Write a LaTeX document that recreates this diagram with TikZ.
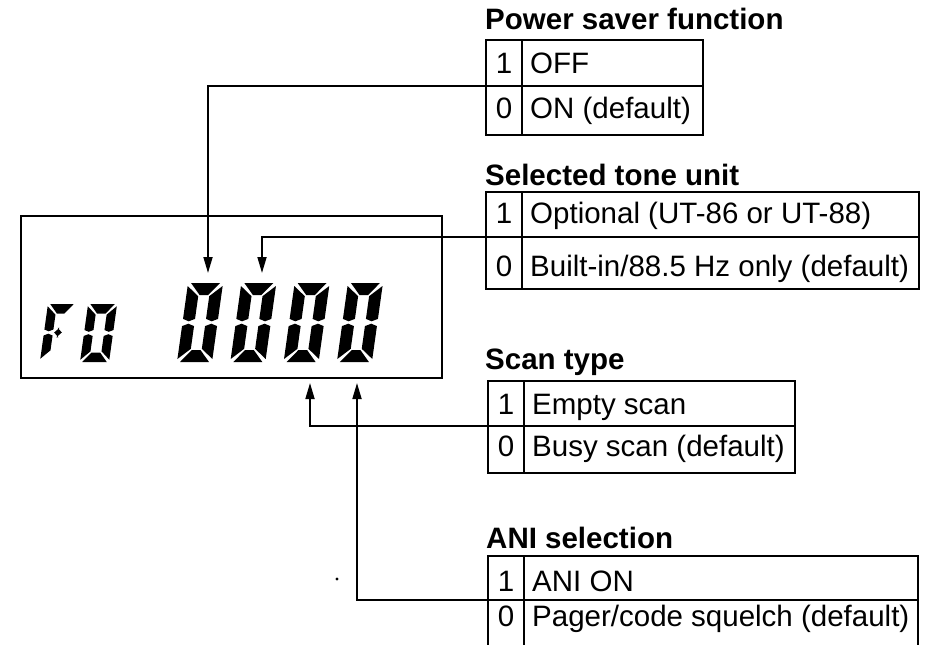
\documentclass[tikz,border=0pt]{standalone}
\usepackage{fontspec}
\setmainfont{Liberation Sans}
\usetikzlibrary{arrows.meta}
\newcommand{\tabfont}{\fontsize{29.5pt}{34pt}\selectfont}
\newcommand{\titfont}{\fontsize{29.5pt}{34pt}\selectfont\bfseries}
% seven-segment helpers (local coords: origin bottom-left, y up)
\newcommand{\lcdsega}{\fill ({\dB},{\dH}) -- ({\dW-\dB},{\dH}) -- ({\dW-\tV-\dG},{\dH-\tH}) -- ({\tV+\dG},{\dH-\tH}) -- cycle;}
\newcommand{\lcdsegd}{\fill ({\dB},0) -- ({\dW-\dB},0) -- ({\dW-\tV-\dG},{\tH}) -- ({\tV+\dG},{\tH}) -- cycle;}
\newcommand{\lcdsegf}{\fill (0,{\dH-\dB}) -- ({\tV},{\dH-\tH-\dG}) -- ({\tV},{\yM+\dG+\dP}) -- ({\tV/2},{\yM+\dG}) -- (0,{\yM+\dG+\dP}) -- cycle;}
\newcommand{\lcdsege}{\fill (0,{\dB}) -- ({\tV},{\tH+\dG}) -- ({\tV},{\yM-\dG-\dP}) -- ({\tV/2},{\yM-\dG}) -- (0,{\yM-\dG-\dP}) -- cycle;}
\newcommand{\lcdsegb}{\fill ({\dW},{\dH-\dB}) -- ({\dW-\tV},{\dH-\tH-\dG}) -- ({\dW-\tV},{\yM+\dG+\dP}) -- ({\dW-\tV/2},{\yM+\dG}) -- ({\dW},{\yM+\dG+\dP}) -- cycle;}
\newcommand{\lcdsegc}{\fill ({\dW},{\dB}) -- ({\dW-\tV},{\tH+\dG}) -- ({\dW-\tV},{\yM-\dG-\dP}) -- ({\dW-\tV/2},{\yM-\dG}) -- ({\dW},{\yM-\dG-\dP}) -- cycle;}
\newcommand{\lcdsegg}{\fill ({\tV+\dG},{\yM}) -- ({\tV+\dG+\tH/2},{\yM+\tH/2}) -- ({\dW-\tV-\dG-\tH/2},{\yM+\tH/2}) -- ({\dW-\tV-\dG},{\yM}) -- ({\dW-\tV-\dG-\tH/2},{\yM-\tH/2}) -- ({\tV+\dG+\tH/2},{\yM-\tH/2}) -- cycle;}
\newcommand{\lcddigit}[7]{%
  \begin{scope}[shift={(#1,#2)},x=1pt,y=1pt,xslant=0.14]
    \pgfmathsetmacro\dW{#3}\pgfmathsetmacro\dH{#4}\pgfmathsetmacro\tV{#5}\pgfmathsetmacro\tH{#6}%
    \pgfmathsetmacro\dG{1.2}\pgfmathsetmacro\dB{0.25*#5}\pgfmathsetmacro\dP{0.2*#5}\pgfmathsetmacro\yM{#4/2}%
    \foreach \s in {#7}{\csname lcdseg\s\endcsname}%
  \end{scope}}
% table rows: [text yshift]{name}{at}{label width}{height}{number}{text}
\newcommand{\tabrow}[7][0pt]{%
  \node[numcell, minimum height=#5] (#2n) at #3 {};
  \node[labcell, minimum height=#5, minimum width=#4] (#2) at (#2n.north east) {};
  \node[numtext] (#2nt) at ([yshift=#1]#2n.center) {#6};
  \node[labtext] (#2t) at ([xshift=8pt,yshift=#1]#2.west) {#7};}
\tikzset{
  tabline/.style={draw, line width=1.8pt, inner sep=0pt, outer sep=0pt, anchor=north west},
  numcell/.style={tabline, minimum width=36pt},
  labcell/.style={tabline},
  numtext/.style={inner sep=0pt, font=\tabfont, text height=21pt, text depth=0pt},
  labtext/.style={anchor=west, inner sep=0pt, font=\tabfont, text height=21pt, text depth=0pt},
  title/.style={anchor=base west, inner sep=0pt, font=\titfont},
  conn/.style={line width=1.7pt, -{Triangle[length=16pt,width=9pt]}},
}
\begin{document}
\begin{tikzpicture}[x=1pt,y=-1pt]
\useasboundingbox (0,0) rectangle (932,645);
\fill[white] (0,0) rectangle (932,645);
\clip (0,0) rectangle (932,645);

% display
\node[draw, line width=1.9pt, inner sep=0pt, outer sep=0pt, minimum width=421pt, minimum height=162pt, anchor=north west] (disp) at (21,216) {};
\lcddigit{40}{361}{28}{57}{9}{9.5}{a,e,f,g}
\lcddigit{80}{362}{29}{58}{9}{9.5}{a,b,c,d,e,f}
\foreach \i in {0,1,2,3}{
  \lcddigit{177+53.3*\i}{362}{35}{79}{12}{12}{a,b,c,d,e,f}
}

% titles
\node[title] (tpow) at (485,29.5) {Power saver function};
\node[title] (ttone) at (485,185) {Selected tone unit};
\node[title] (tscan) at (485,369) {Scan type};
\node[title] (tani) at (486,548) {ANI selection};

% tables
\tabrow{p1}{(486,40)}{181pt}{46pt}{1}{OFF}
\tabrow[3pt]{p0}{(p1n.south west)}{181pt}{49pt}{0}{ON (default)}
\tabrow[2pt]{t1}{(486,192)}{397pt}{45pt}{1}{Optional (UT-86 or UT-88)}
\tabrow[-3pt]{t0}{(t1n.south west)}{397pt}{52pt}{0}{Built-in/88.5 Hz only (default)}
\tabrow{s1}{(488,381)}{271pt}{45pt}{1}{Empty scan}
\tabrow[4pt]{s0}{(s1n.south west)}{271pt}{47pt}{0}{Busy scan (default)}
\tabrow[-3pt]{a1}{(488,556)}{394pt}{44pt}{1}{ANI ON}
\tabrow[7pt]{a0}{(a1n.south west)}{394pt}{46pt}{0}{Pager/code squelch (default)}

% connectors
\coordinate (pa) at (208,273);
\coordinate (ta) at (262,273);
\coordinate (sa) at (310,383);
\coordinate (aa) at (357,383);
\draw[conn] (p0n.north west) -| (pa);
\draw[conn] (t0n.north west) -| (ta);
\draw[conn] (s0n.north west) -| (sa);
\draw[conn] (a0n.north west) -| (aa);

% stray speck
\fill (337,579) circle (1.6pt);
\end{tikzpicture}
\end{document}
